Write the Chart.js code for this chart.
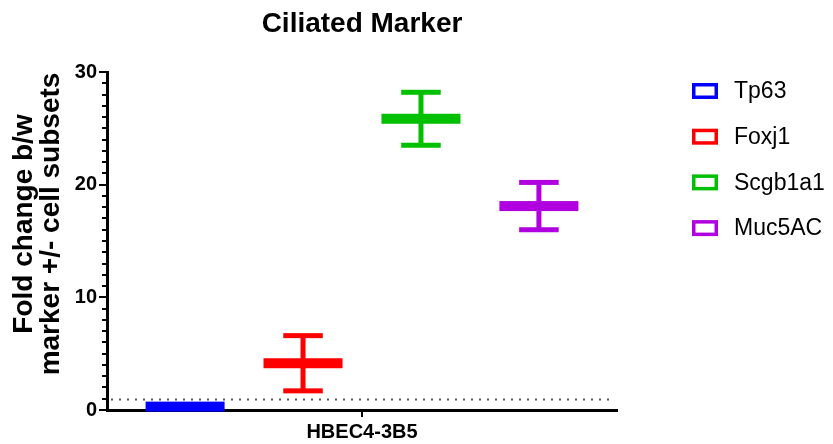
<!DOCTYPE html>
<html>
<head>
<meta charset="utf-8">
<script src="https://cdn.jsdelivr.net/npm/chart.js@4/dist/chart.umd.min.js"></script>
<style>
  html, body { margin: 0; padding: 0; background: #ffffff; }
  #wrap { width: 833px; height: 444px; }
</style>
</head>
<body>
<div id="wrap"><canvas id="c" width="833" height="444"></canvas></div>
<script>
// Fold change per marker (mean ± SD) for the single cell line
const categories = ['HBEC4-3B5'];
const markers = ['Tp63', 'Foxj1', 'Scgb1a1', 'Muc5AC'];
const means = [0.3, 4.15, 25.85, 18.1];
const sds = [0.15, 2.45, 2.35, 2.1];
const colors = ['#0000FF', '#FF0000', '#00C000', '#B000E0'];
const yTicks = [0, 10, 20, 30];
const yTitleLines = ['Fold change b/w', 'marker +/- cell subsets'];
const referenceLevel = 1;

const FONT = 'Arial, "Liberation Sans", Helvetica, sans-serif';
Chart.defaults.font.family = FONT;
Chart.defaults.color = '#000';

// Mean line with SD whiskers, placed on each (invisible) bar slot
const meanSdPlugin = {
  id: 'meanSd',
  afterDatasetsDraw(chart) {
    const ctx = chart.ctx;
    const y = chart.scales.y;
    chart.data.datasets.forEach((ds, i) => {
      const meta = chart.getDatasetMeta(i);
      meta.data.forEach((bar, j) => {
        const m = ds.data[j], s = ds.sd[j];
        const x = bar.x, w = bar.width;
        const yM = y.getPixelForValue(m);
        const yT = y.getPixelForValue(m + s);
        const yB = y.getPixelForValue(m - s);
        ctx.save();
        ctx.fillStyle = ds.markColor;
        ctx.fillRect(x - 2.5, yT, 5, yB - yT);
        ctx.fillRect(x - w / 4, yT - 2.5, w / 2, 5);
        ctx.fillRect(x - w / 4, yB - 2.5, w / 2, 5);
        ctx.fillRect(x - w / 2, yM - 5, w, 10);
        ctx.restore();
      });
    });
  }
};

// Dotted reference line at fold change = 1
const referencePlugin = {
  id: 'referenceLine',
  beforeDatasetsDraw(chart) {
    const ctx = chart.ctx, a = chart.chartArea;
    const yy = Math.round(chart.scales.y.getPixelForValue(referenceLevel)) + 0.5;
    ctx.save();
    ctx.strokeStyle = '#555';
    ctx.lineWidth = 2;
    ctx.setLineDash([2, 6]);
    ctx.beginPath();
    ctx.moveTo(a.left + 4, yy);
    ctx.lineTo(a.right - 2, yy);
    ctx.stroke();
    ctx.restore();
  }
};

// Minor ticks on the value axis, one per unit, plus the two-line axis title
const valueAxisPlugin = {
  id: 'valueAxisExtras',
  afterDraw(chart) {
    const ctx = chart.ctx, s = chart.scales.y;
    ctx.save();
    ctx.strokeStyle = '#000';
    ctx.lineWidth = 2;
    for (let v = s.min; v <= s.max; v++) {
      if (v % 10 === 0) continue;
      const yy = Math.round(s.getPixelForValue(v));
      ctx.beginPath();
      ctx.moveTo(s.right - 5, yy);
      ctx.lineTo(s.right, yy);
      ctx.stroke();
    }
    ctx.restore();

    ctx.save();
    ctx.font = 'bold 28px ' + FONT;
    ctx.fillStyle = '#000';
    ctx.textAlign = 'center';
    ctx.textBaseline = 'middle';
    const cy = (s.top + s.bottom) / 2 - 17;
    ctx.translate(24, cy);
    ctx.rotate(-Math.PI / 2);
    yTitleLines.forEach((line, k) => ctx.fillText(line, 0, k * 27));
    ctx.restore();
  }
};

// Legend with outlined swatches to the right of the plot
const sideLegendPlugin = {
  id: 'sideLegend',
  afterDraw(chart) {
    const ctx = chart.ctx, a = chart.chartArea;
    const boxX = a.right + 75;
    ctx.save();
    ctx.font = '23px ' + FONT;
    ctx.textBaseline = 'middle';
    ctx.textAlign = 'left';
    chart.data.datasets.forEach((ds, i) => {
      const cy = a.top + 19 + i * 45.7;
      ctx.fillStyle = '#fff';
      ctx.fillRect(boxX, cy - 8, 26, 16);
      ctx.strokeStyle = ds.markColor;
      ctx.lineWidth = 3.5;
      ctx.strokeRect(boxX + 1.75, cy - 6.25, 22.5, 12.5);
      ctx.fillStyle = '#000';
      ctx.fillText(ds.label, boxX + 42, cy + 1);
    });
    ctx.restore();
  }
};

new Chart(document.getElementById('c'), {
  type: 'bar',
  data: {
    labels: categories,
    datasets: markers.map((name, i) => ({
      label: name,
      data: [means[i]],
      sd: [sds[i]],
      markColor: colors[i],
      backgroundColor: 'rgba(0,0,0,0)',
      borderWidth: 0,
      categoryPercentage: 0.925,
      barPercentage: 0.67
    }))
  },
  options: {
    responsive: false,
    animation: false,
    events: [],
    layout: { padding: { left: 0, right: 216, top: 0, bottom: 0 } },
    plugins: {
      legend: { display: false },
      tooltip: { enabled: false },
      title: {
        display: true,
        text: 'Ciliated Marker',
        fullSize: false,
        color: '#000',
        font: { size: 28, weight: 'bold', lineHeight: 1.2 },
        padding: { top: 7, bottom: 31.4 }
      }
    },
    scales: {
      x: {
        z: 2,
        afterFit(s) { s.height = 34; },
        ticks: { font: { size: 20, weight: 'bold' }, color: '#000', padding: 3 },
        grid: { offset: false, drawOnChartArea: false, tickLength: 7, color: '#000', lineWidth: 2 },
        border: { display: true, color: '#000', width: 3 }
      },
      y: {
        min: 0,
        max: 30,
        z: 2,
        afterFit(s) { s.width = 107; },
        afterBuildTicks(s) { s.ticks = yTicks.map(v => ({ value: v })); },
        ticks: { font: { size: 20, weight: 'bold' }, color: '#000', padding: 2 },
        grid: { drawOnChartArea: false, tickLength: 8, color: '#000', lineWidth: 2 },
        border: { display: true, color: '#000', width: 3 },
        title: { display: false }
      }
    }
  },
  plugins: [referencePlugin, meanSdPlugin, valueAxisPlugin, sideLegendPlugin]
});
</script>
</body>
</html>
